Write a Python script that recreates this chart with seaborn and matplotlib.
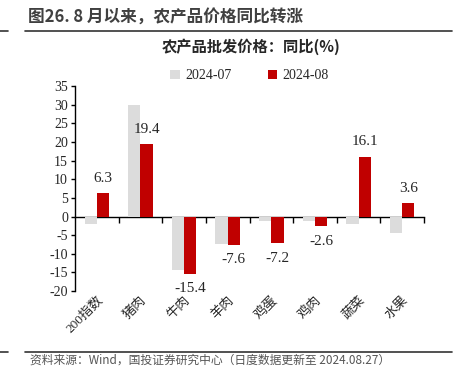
import pandas as pd
import matplotlib.pyplot as plt
import matplotlib.lines as mlines
import seaborn as sns

categories = ['200指数', '猪肉', '牛肉', '羊肉', '鸡蛋', '鸡肉', '蔬菜', '水果']
jul_values = [-1.9, 29.8, -14.3, -7.4, -1.1, -1.1, -1.9, -4.3]
aug_values = [6.3, 19.4, -15.4, -7.6, -7.2, -2.6, 16.1, 3.6]
series_names = ['2024-07', '2024-08']
colors = ['#dcdcdc', '#c00000']
y_ticks = list(range(-20, 36, 5))

sns.set_style('white')
plt.rcParams['font.family'] = ['Liberation Serif', 'Noto Sans CJK SC']
plt.rcParams['axes.unicode_minus'] = False

df = pd.DataFrame({
    'cat': categories * 2,
    'val': jul_values + aug_values,
    'series': [series_names[0]] * len(categories) + [series_names[1]] * len(categories),
})

fig = plt.figure(figsize=(4.57, 3.86), dpi=100)
ax = fig.add_axes([0.164, 0.246, 0.764, 0.531])

sns.barplot(data=df, x='cat', y='val', hue='series', palette=colors,
            width=0.56, saturation=1, linewidth=0, ax=ax, legend=True)

ax.set_ylim(-20, 35)
ax.set_yticks(y_ticks)
ax.set_yticklabels([str(t) for t in y_ticks], fontsize=10)
ax.set_xlim(-0.5, len(categories) - 0.5)
ax.set_xlabel('')
ax.set_ylabel('')

for s in ['top', 'right', 'bottom']:
    ax.spines[s].set_visible(False)
ax.spines['left'].set_color('black')
ax.spines['left'].set_linewidth(1)
ax.tick_params(axis='y', direction='out', length=3, width=1, color='black', left=True, pad=2)
ax.tick_params(axis='x', length=0, pad=2)
ax.set_xticks(range(len(categories)))
ax.set_xticklabels(categories, rotation=45, ha='right', va='top',
                   rotation_mode='anchor', fontsize=9.5)

# zero axis line with ticks between categories
sec = ax.secondary_xaxis(20 / 55)
sec.set_xticks([i + 0.5 for i in range(len(categories))])
sec.set_xticklabels([])
sec.tick_params(direction='out', length=4, width=1, color='black')
sec.spines['bottom'].set_linewidth(1)
sec.spines['bottom'].set_color('black')

ax.bar_label(ax.containers[1], labels=[f'{v:.1f}' for v in aug_values],
             padding=6, fontsize=11)

handles, labels = ax.get_legend_handles_labels()
ax.legend(handles, labels, loc='center', bbox_to_anchor=(0.5, 1.05), ncol=2,
          frameon=False, fontsize=10, handlelength=0.7, handleheight=0.7,
          columnspacing=2.6, handletextpad=0.4)

fig.text(0.062, 0.953, '图26. 8 月以来，农产品价格同比转涨', fontsize=12,
         fontweight='bold', color='#404040', va='center', family=['Noto Sans CJK SC'])
fig.text(0.55, 0.878, '农产品批发价格：同比(%)', fontsize=11, fontweight='bold',
         ha='center', va='center', family=['Noto Sans CJK SC'])
fig.text(0.065, 0.068, '资料来源：Wind，国投证券研究中心（日度数据更新至 2024.08.27）',
         fontsize=8.5, color='#555555', va='center', style='italic',
         family=['Noto Sans CJK SC'])

for y in [0.92, 0.088]:
    fig.add_artist(mlines.Line2D([0.055, 0.99], [y, y], color='#333333', lw=1.2))
    fig.add_artist(mlines.Line2D([0.0, 0.018], [y, y], color='#333333', lw=1.2))

fig.savefig('out.png', dpi=100)
